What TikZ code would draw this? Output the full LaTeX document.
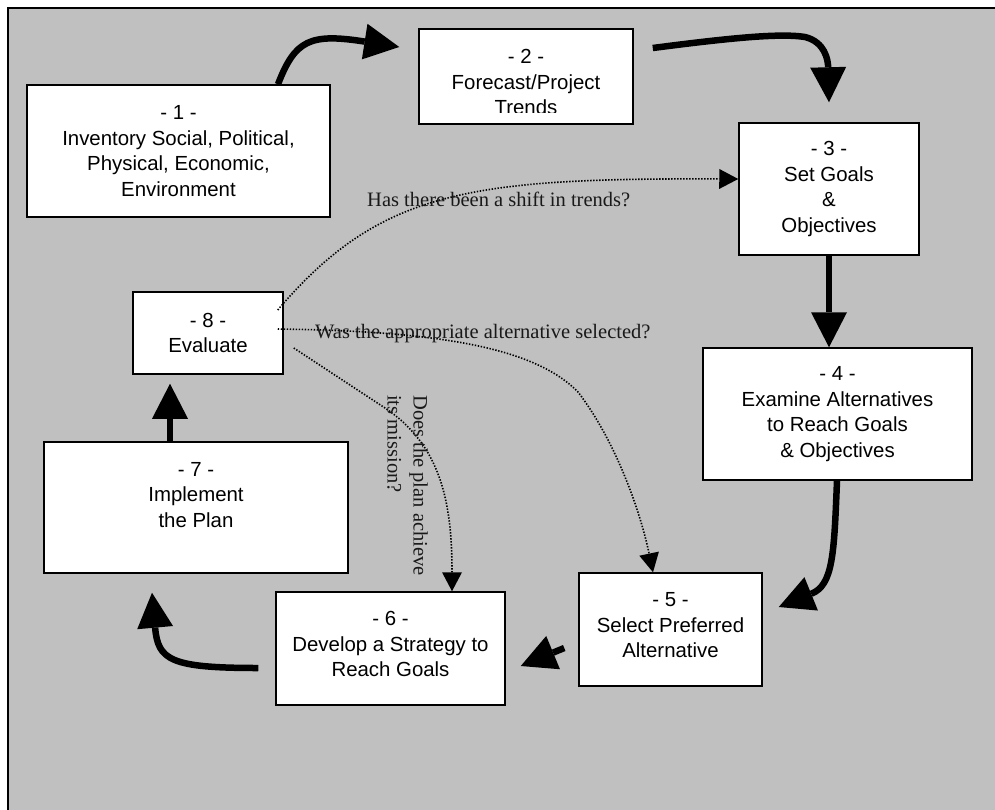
\documentclass[tikz,border=0pt]{standalone}
\usepackage{fontspec}
\setmainfont{Liberation Serif}
\newfontfamily\boxfont{Liberation Sans}
\usetikzlibrary{arrows.meta,calc}
\definecolor{bggray}{HTML}{C0C0C0}
\tikzset{
  stepbox/.style={draw=black, line width=1.5pt, fill=white, inner sep=0pt,
    align=center, font=\boxfont\fontsize{20.4pt}{25.5pt}\selectfont},
  boxtext/.style={inner sep=0pt, align=center, font=\boxfont\fontsize{20.4pt}{25.5pt}\selectfont},
  bigarrow/.style={line width=6.5pt, -{Triangle[length=35pt,width=36pt,line width=0pt]}},
  dotarrow/.style={line width=1.6pt, dash pattern=on 1.4pt off 1.6pt,
    -{Triangle[length=19pt,width=20pt,line width=0pt]}},
  qlabel/.style={inner sep=0pt, font=\fontsize{20.5pt}{26pt}\selectfont, text=black!90}
}
\begin{document}
\begin{tikzpicture}[x=1pt,y=-1pt]
\useasboundingbox (0,0) rectangle (995,809);
\clip (0,0) rectangle (995,809);
\fill[white] (0,0) rectangle (995,809);
\draw[line width=2pt, fill=bggray] (8,8) rectangle (1010,825);

% boxes
\node[stepbox, minimum width=303pt, minimum height=132pt] (b1) at (178.5,151)
  {- 1 -\\Inventory Social, Political,\\Physical, Economic,\\Environment};
\node[stepbox, minimum width=214pt, minimum height=95pt] (b2) at (526,76.5) {};
\begin{scope}
  \clip (420,30) rectangle (632,112.5);
  \node[boxtext] (b2t) at (526,82) {- 2 -\\Forecast/Project\\Trends};
\end{scope}
\node[stepbox, minimum width=180pt, minimum height=132pt] (b3) at (829,189)
  {- 3 -\\Set Goals\\\&\\Objectives};
\node[stepbox, minimum width=269pt, minimum height=132pt] (b4) at (837.5,414)
  {- 4 -\\Examine Alternatives\\to Reach Goals\\\& Objectives};
\node[stepbox, minimum width=183pt, minimum height=113pt] (b5) at (670.5,629.5)
  {- 5 -\\Select Preferred\\Alternative\\[-17pt]~};
\node[stepbox, minimum width=229pt, minimum height=113pt] (b6) at (390.5,648.5)
  {- 6 -\\Develop a Strategy to\\Reach Goals\\[-17pt]~};
\node[stepbox, minimum width=304pt, minimum height=131pt] (b7) at (196,507.5)
  {- 7 -\\Implement\\the Plan\\~};
\node[stepbox, minimum width=150pt, minimum height=82pt] (b8) at (208,333)
  {- 8 -\\Evaluate};

% thick arrows
\draw[bigarrow] ([xshift=99.5pt]b1.north) .. controls (295,40) and (310,33) .. ([shift={(-19pt,29.5pt)}]b2.west);
\draw[bigarrow] ([shift={(19pt,28.5pt)}]b2.east) .. controls (730,38) and (780,33) .. (805,37)
  .. controls (825,42) and (828,60) .. ([yshift=20pt]b3.north);
\draw[bigarrow] (b3.south) -- (b3.south |- b4.north);
\draw[bigarrow] ([xshift=-0.5pt]b4.south) .. controls (834,555) and (833,585) .. ([shift={(16pt,22.5pt)}]b5.east);
\draw[bigarrow] ([shift={(-14pt,-18.5pt)}]b5.west) -- ([shift={(15pt,-17.5pt)}]b6.east);
\draw[bigarrow] ([shift={(-17pt,-19.5pt)}]b6.west) .. controls (170,668) and (158,660) .. ([shift={(-44pt,-19pt)}]b7.south);
\draw[bigarrow] ([xshift=-26pt]b7.north) -- ([shift={(-38pt,-9pt)}]b8.south);

% dotted feedback arrows
\draw[dotarrow] ([shift={(-6pt,23pt)}]b8.east) .. controls (380,190) and (470,178) .. ([yshift=10pt]b3.west);
\draw[dotarrow] ([shift={(-6pt,4pt)}]b8.east) .. controls (440,331) and (535,348) .. (578,392)
  .. controls (615,440) and (640,510) .. ([xshift=-17.5pt]b5.north);
\draw[dotarrow] ([shift={(10pt,-15pt)}]b8.east) -- (385,408) .. controls (440,445) and (452,500) .. ([xshift=61.5pt]b6.north);

% labels
\node[qlabel, anchor=base west] (q1) at (367,206) {Has there been a shift in trends?};
\node[qlabel, anchor=base west] (q2) at (315,338) {Was the appropriate alternative selected?};
\node[qlabel, anchor=north west, rotate=-90, align=left] (q3) at (428,395) {Does the plan achieve\\its mission?};
\end{tikzpicture}
\end{document}
